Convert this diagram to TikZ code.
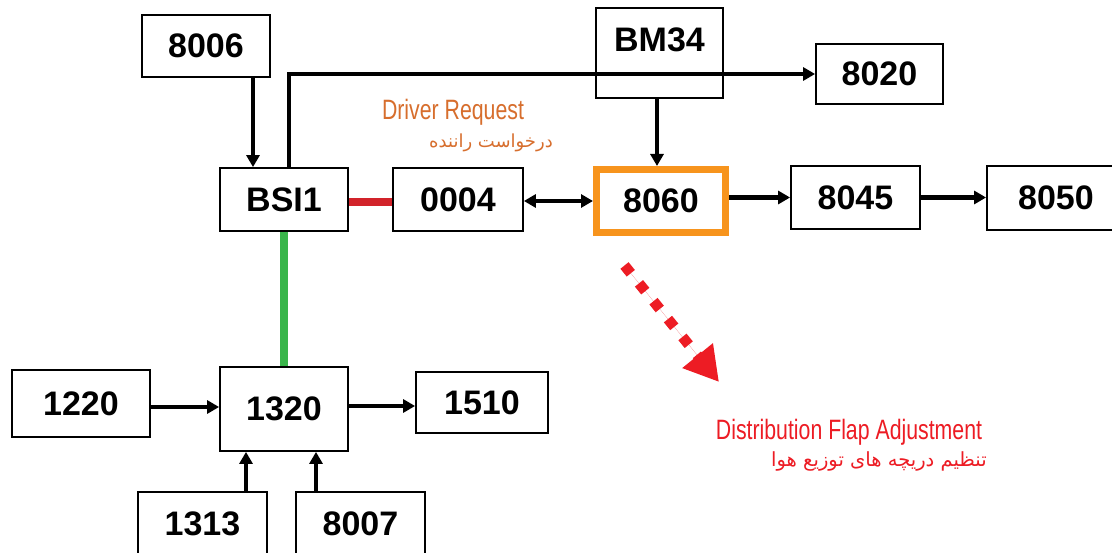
\documentclass[tikz,border=0pt]{standalone}
\usepackage{fontspec}
\setmainfont{Liberation Sans}
\newfontfamily\cond[FakeStretch=0.76]{Liberation Sans}
\newfontfamily\fa[Script=Arabic]{DejaVu Sans}
\TeXXeTstate=1
\usetikzlibrary{arrows.meta,calc}
\definecolor{boxorange}{RGB}{247,148,29}
\definecolor{txtorange}{RGB}{215,110,45}
\definecolor{flapred}{RGB}{237,28,36}
\definecolor{linkred}{RGB}{210,35,42}
\definecolor{linkgreen}{RGB}{57,181,74}
\begin{document}
\begin{tikzpicture}[x=1pt,y=-1pt,
  box/.style={draw=black, line width=1.8pt, inner sep=0pt, fill=white,
    font=\fontsize{34}{34}\selectfont\bfseries},
  conn/.style={draw=black, line width=4.4pt, -{Triangle[length=12pt,width=13pt]}},
  dconn/.style={draw=black, line width=4.4pt, {Triangle[length=12pt,width=13pt]}-{Triangle[length=12pt,width=13pt]}},
  bus/.style={line width=8pt},
  entext/.style={font=\cond\fontsize{28}{28}\selectfont, inner sep=0pt},
  fatext/.style={font=\fa\fontsize{18}{18}\selectfont, inner sep=0pt},
]
\useasboundingbox (0,0) rectangle (1112,553);
\clip (0,0) rectangle (1112,553);
\fill[white] (0,0) rectangle (1112,553);

% boxes
\node[box, minimum width=128pt, minimum height=62pt] (n8006) at (206,46) {8006};
\node[box, minimum width=127pt, minimum height=90pt, fill=none] (bm34) at (659.5,53) {\raisebox{26pt}{BM34}};
\node[box, minimum width=127pt, minimum height=60pt] (n8020) at (879.5,74) {8020};
\node[box, minimum width=128pt, minimum height=63pt] (bsi) at (284,199.5) {BSI1};
\node[box, minimum width=130pt, minimum height=63pt] (n0004) at (458,199.5) {0004};
\node[box, draw=boxorange, line width=7pt, minimum width=129pt, minimum height=63pt] (n8060) at (661,201) {8060};
\node[box, minimum width=129pt, minimum height=63pt] (n8045) at (855.5,197.5) {8045};
\node[box, minimum width=138pt, minimum height=64pt] (n8050) at (1056,198) {8050};
\node[box, minimum width=138pt, minimum height=67pt] (n1220) at (81,403.5) {1220};
\node[box, minimum width=128pt, minimum height=84pt] (n1320) at (284,409) {1320};
\node[box, minimum width=132pt, minimum height=61pt] (n1510) at (482,402.5) {1510};
\node[box, minimum width=129pt, minimum height=64pt] (n1313) at (202.5,524) {1313};
\node[box, minimum width=129pt, minimum height=64pt] (n8007) at (360.5,524) {8007};

% connectors
\coordinate (c8006) at ($(n8006.south)+(47,0)$);
\draw[conn] (c8006) -- (c8006 |- bsi.north);
\coordinate (cbsi) at ($(bsi.north)+(5,0)$);
\draw[conn] (cbsi) |- (n8020.west);
\coordinate (cbm) at ($(bm34.south)+(-2.5,0)$);
\draw[conn] (cbm) -- (cbm |- n8060.north);
\draw[bus, draw=linkred] ($(bsi.east)+(0,2.5)$) -- ($(n0004.west)+(0,2.5)$);
\draw[dconn] (n0004.east |- n8060.west) -- (n8060.west);
\draw[conn] (n8060.east |- n8045.west) -- (n8045.west);
\draw[conn] (n8045.east) -- (n8050.west |- n8045.east);
\draw[bus, draw=linkgreen] (bsi.south) -- (n1320.north);
\coordinate (c1220) at ($(n1220.east)+(0,3.5)$);
\draw[conn] (c1220) -- (c1220 -| n1320.west);
\coordinate (c1320) at ($(n1320.east)+(0,-3)$);
\draw[conn] (c1320) -- (c1320 -| n1510.west);
\coordinate (c1313) at ($(n1313.north)+(43.5,0)$);
\draw[conn] (c1313) -- (c1313 |- n1320.south);
\coordinate (c8007) at ($(n8007.north)+(-44.5,0)$);
\draw[conn] (c8007) -- (c8007 |- n1320.south);

% red dotted arrow
\coordinate (fs) at (624.5,265.5);
\coordinate (fe) at (719,382);
\draw[draw=flapred, line width=10.5pt, dash pattern=on 10pt off 13pt,
  -{Triangle[length=34pt,width=37pt]}, fill=flapred] (fs) -- (fe);

% texts
\node[entext, text=txtorange, anchor=base] (drven) at (453,120) {Driver Request};
\node[fatext, text=txtorange] (drvfa) at (491,143) {\beginR درخواست راننده\endR};
\node[entext, text=flapred, anchor=base] (flapen) at (849,439) {Distribution Flap Adjustment};
\node[fatext, text=flapred, font=\fa\fontsize{19.5}{19.5}\selectfont] (flapfa) at (879,461) {\beginR تنظیم دریچه های توزیع هوا\endR};
\end{tikzpicture}
\end{document}
